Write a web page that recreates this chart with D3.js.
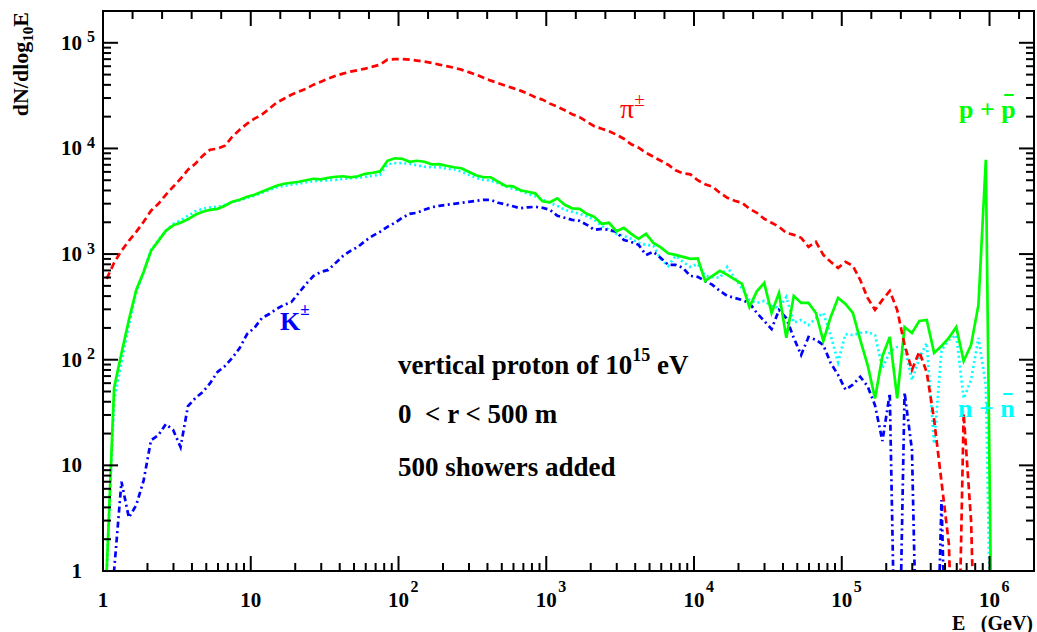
<!DOCTYPE html>
<html><head><meta charset="utf-8">
<script src="https://cdn.jsdelivr.net/npm/d3@7"></script>
<style>body{margin:0;background:#fff}text{font-family:"Liberation Serif","Times New Roman",serif}</style>
</head><body><svg id="c" width="1037" height="632"></svg>
<script>
// histogram binning: 20 bins per decade in log10(E/GeV), starting at 1 GeV
const binsPerDecade = 20;
const nBins = 126;

// dN/dlog10E per bin
const pions = [582,827,1075,1334,1624,2022,2574,2992,3641,4335,5163,6285,7163,8531,9726,9937,10617,12907,15040,17146,
 19130,20850,23770,27100,29570,32270,34460,36810,40170,42880,45760,48840,51040,53330,55080,56910,59460,62120,69290,70000,
 70000,69290,67800,66300,64450,62120,60130,58200,55700,52750,49990,46790,43830,41510,39290,37220,35250,33010,30580,28960,
 26550,24850,23020,21100,19770,17910,16230,15380,14560,13490,12360,10960,10160,9105,8340,7640,7010,6213,5820,5690,
 5000,4580,4335,3802,3411,3194,3057,2684,2461,2158,1978,1813,1589,1521,1425,1170,1306,984,844,740,
 844,773,569,385,296,368,448,296,138,80,119,76,27,7,1.8,0,31,3,0,0,
 0,0,0,0,0,0];
const protons = [1,54,115,238,458,678,1074,1334,1660,1871,1977,2133,2354,2513,2624,2682,2864,3127,3266,3490,
 3647,3894,4155,4436,4634,4734,4842,5000,5163,5105,5275,5395,5455,5335,5455,5754,5888,6056,7643,8073,
 7980,7477,7643,7477,7081,7100,6855,6635,6489,6015,5570,5335,5335,4833,4428,4383,4017,3888,3759,3160,
 3092,3373,2926,2712,2681,2405,2253,1933,1977,1642,1772,1554,1394,1554,1277,1158,1016,982,940,901,
 911,557,621,693,635,575,522,315,444,533,277,429,161,402,345,345,277,150,254,385,
 337,277,154,89,43,108,164,43,204,179,233,238,116,135,161,204,97,138,330,7810,
 0,0,0,0,0,0];
const neutrons = [1,41,95,213,438,680,1096,1363,1660,1933,2085,2302,2541,2682,2771,2800,2926,3127,3230,3411,
 3562,3802,4017,4287,4428,4530,4634,4784,4890,4943,5000,5047,5163,5222,5275,5395,5510,5636,7081,7244,
 7260,7163,6934,6708,6635,6635,6424,6350,6015,5636,5275,5047,4943,4677,4383,4150,3972,3722,3524,3266,
 3055,2864,2624,2513,2405,2277,2110,1851,1696,1554,1489,1394,1277,1223,1195,901,773,961,844,756,
 808,621,608,595,756,595,473,368,345,360,323,309,393,224,238,213,247,277,171,95,
 175,171,179,183,171,83,118,132,132,64,104,144,16,123,154,171,43,64,161,58,
 0,0,0,0,0,0];
const kaons = [0,1,7,3.2,4.2,7.2,17.3,19.3,24.6,21.6,14.9,36.4,43.3,49.5,60,76.5,87,104,129,175,
 200,248,271,303,330,352,429,522,621,678,708,826,961,1073,1170,1334,1489,1623,1812,1977,
 2205,2405,2461,2624,2773,2864,2926,2992,3057,3124,3194,3266,3266,3057,2951,2833,2712,2773,2800,2742,
 2624,2302,2205,2110,2065,1892,1696,1733,1696,1623,1361,1305,1223,982,1049,920,790,790,740,621,
 608,557,511,448,402,385,368,345,277,233,195,296,247,161,111,164,154,138,93,72,
 52,58,69,56,37,17,48,0,49,14,0,0,0,4.7,0,0,0,0,0,0,
 0,0,0,0,0,0];

const xTickBase = ["1","10","10","10","10","10","10"];
const xTickExp  = ["","","2","3","4","5","6"];
const yTickBase = ["1","10","10","10","10","10"];
const yTickExp  = ["","","2","3","4","5"];

const svg = d3.select("#c");
const x = d3.scaleLog().domain([1, 2e6]).range([103, 1034]);
const y = d3.scaleLog().domain([1, 2e5]).range([571, 11]);
const X0 = x.range()[0], X1 = x.range()[1], Y0 = y.range()[0], Y1 = y.range()[1];

const binCenters = d3.range(nBins).map(i => Math.pow(10, (i + 0.5) / binsPerDecade));

svg.append("clipPath").attr("id", "clip").append("rect")
  .attr("x", X0).attr("y", Y1).attr("width", X1 - X0).attr("height", Y0 - Y1);

const floorVal = 0.01;
const line = d3.line().x((d, i) => x(binCenters[i])).y(d => y(Math.max(d, floorVal)));

const series = [
  {data: neutrons, color: "#00ffff", dash: "2,3", w: 2.7},
  {data: kaons, color: "#0000ff", dash: "6,3.5,2,3.5", w: 2.7},
  {data: protons, color: "#00ff00", dash: null, w: 2.7},
  {data: pions, color: "#ff0000", dash: "7,4", w: 2.7}
];
const g = svg.append("g").attr("clip-path", "url(#clip)");
series.forEach(s => {
  g.append("path").attr("d", line(s.data)).attr("fill", "none")
    .attr("stroke", s.color).attr("stroke-width", s.w)
    .attr("stroke-dasharray", s.dash).attr("stroke-linejoin", "miter");
});

// frame
svg.append("rect").attr("x", X0).attr("y", Y1).attr("width", X1 - X0).attr("height", Y0 - Y1)
  .attr("fill", "none").attr("stroke", "#000").attr("stroke-width", 2);

const tk = svg.append("g").attr("stroke", "#000").attr("stroke-width", 2);
for (let d = 0; d <= 6; d++) for (let m = 1; m <= 9; m++) {
  const v = m * Math.pow(10, d);
  if (v < 1 || v >= 2e6) continue;
  const len = m === 1 ? 15 : 8;
  tk.append("line").attr("x1", x(v)).attr("x2", x(v)).attr("y1", Y0).attr("y2", Y0 - len);
}
for (let d = 0; d <= 5; d++) for (let m = 1; m <= 9; m++) {
  const v = m * Math.pow(10, d);
  if (v < 1 || v >= 2e5) continue;
  const len = m === 1 ? 15 : 8;
  tk.append("line").attr("x1", X0).attr("x2", X0 + len).attr("y1", y(v)).attr("y2", y(v));
  tk.append("line").attr("x1", X1).attr("x2", X1 - len).attr("y1", y(v)).attr("y2", y(v));
}
// top axis: ticks every 0.2 decade
for (let k = 1; k <= 31; k++) {
  const v = Math.pow(10, k * 0.2);
  const len = k % 5 === 0 ? 15 : 8;
  tk.append("line").attr("x1", x(v)).attr("x2", x(v)).attr("y1", Y1).attr("y2", Y1 + len);
}

// x tick labels
xTickBase.forEach((b, i) => {
  const v = Math.pow(10, i);
  const t = svg.append("text").attr("x", x(v)).attr("y", 607).attr("text-anchor", "middle")
    .attr("font-size", 21).attr("font-weight", "bold").text(b);
  if (xTickExp[i]) {
    const w = t.node().getComputedTextLength();
    svg.append("text").attr("x", x(v) + w / 2 + 1.5).attr("y", 592)
      .attr("font-size", 16).attr("font-weight", "bold").text(xTickExp[i]);
  }
});
// y tick labels
yTickBase.forEach((b, i) => {
  const v = Math.pow(10, i);
  svg.append("text").attr("x", 82).attr("y", y(v) + 7).attr("text-anchor", "end")
    .attr("font-size", 21).attr("font-weight", "bold").text(b);
  if (yTickExp[i]) {
    svg.append("text").attr("x", 87).attr("y", y(v) - 0.5)
      .attr("font-size", 16).attr("font-weight", "bold").text(yTickExp[i]);
  }
});

// axis titles
const yt = svg.append("text").attr("transform", "translate(28,12) rotate(-90)")
  .attr("text-anchor", "end").attr("font-size", 22).attr("font-weight", "bold");
yt.append("tspan").text("dN/dlog");
yt.append("tspan").attr("font-size", 15).attr("dy", 5).text("10");
yt.append("tspan").attr("dy", -5).text("E");

svg.append("text").attr("x", 952).attr("y", 629.5).attr("font-size", 20).attr("font-weight", "bold").text("E");
svg.append("text").attr("x", 1033).attr("y", 629.5).attr("text-anchor", "end").attr("font-size", 20).attr("font-weight", "bold").text("(GeV)");

// annotations
const a1 = svg.append("text").attr("x", 398).attr("y", 374).attr("font-size", 27).attr("font-weight", "bold");
a1.append("tspan").text("vertical proton of 10");
a1.append("tspan").attr("font-size", 18).attr("dy", -13).text("15");
a1.append("tspan").attr("dy", 13).text(" eV");
svg.append("text").attr("x", 398).attr("y", 422.5).attr("font-size", 27).attr("font-weight", "bold")
  .attr("xml:space", "preserve").text("0\u00a0 < r < 500 m");
svg.append("text").attr("x", 398).attr("y", 476).attr("font-size", 27).attr("font-weight", "bold").text("500 showers added");

// particle labels
const pl = svg.append("text").attr("x", 620).attr("y", 118).attr("font-size", 28).attr("fill", "#ff0000");
pl.append("tspan").text("\u03c0");
pl.append("tspan").attr("font-size", 19).attr("dy", -12).text("\u00b1");

const kl = svg.append("text").attr("x", 280).attr("y", 330).attr("font-size", 26).attr("font-weight", "bold").attr("fill", "#0000ff");
kl.append("tspan").text("K");
kl.append("tspan").attr("font-size", 17).attr("dy", -15).text("\u00b1");

function barLabel(txt, x0, y0, color) {
  const t = svg.append("text").attr("x", x0).attr("y", y0).attr("font-size", 26)
    .attr("font-weight", "bold").attr("fill", color).attr("xml:space", "preserve").text(txt);
  const n = t.node();
  const last = txt.length - 1;
  const s = n.getStartPositionOfChar(last).x, e = n.getEndPositionOfChar(last).x;
  svg.append("line").attr("x1", s + 3).attr("x2", e - 2).attr("y1", y0 - 23).attr("y2", y0 - 23)
    .attr("stroke", color).attr("stroke-width", 2);
}
barLabel("p + p", 959, 118, "#00ff00");
barLabel("n + n", 958, 417, "#00ffff");
</script></body></html>
